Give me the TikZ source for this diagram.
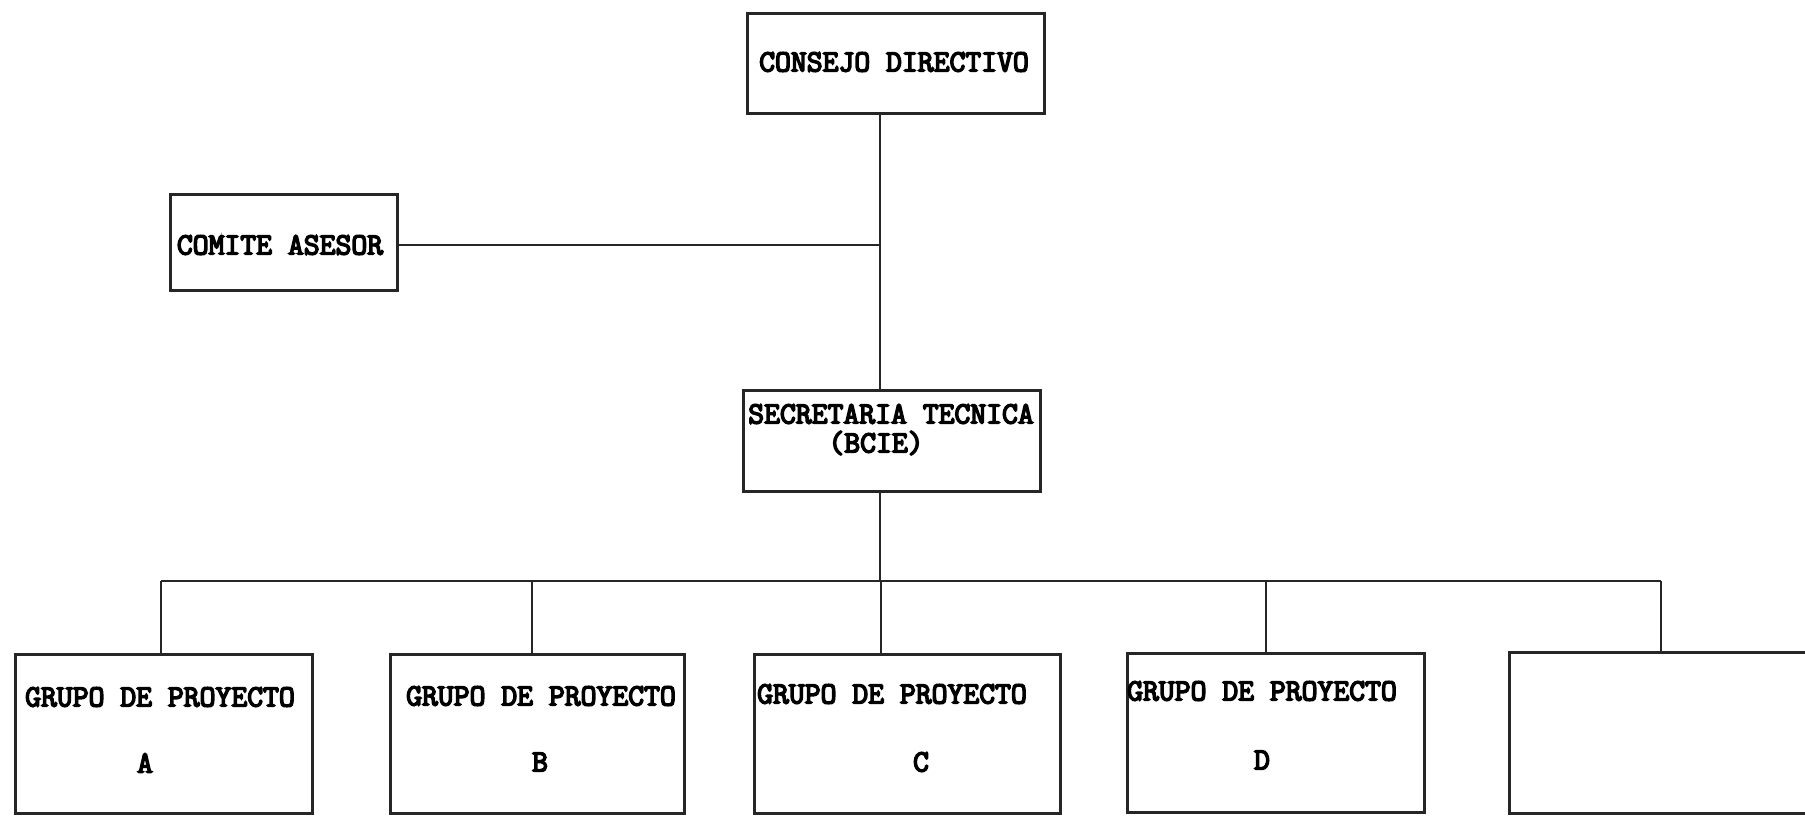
\documentclass[tikz,border=0pt]{standalone}
\usepackage{fontspec}
\newfontfamily\tw{Latin Modern Mono}[FakeBold=5]
\begin{document}
\begin{tikzpicture}[x=1pt,y=-1pt,
  box/.style={draw=black!85, line width=2.6pt, inner sep=0pt, anchor=north west},
  conn/.style={draw=black!85, line width=2.2pt},
  lbl/.style={inner sep=0pt, anchor=center, font=\tw\fontsize{30.8}{34}\selectfont, text=black}]
\clip (0,0) rectangle (1805,815);
\fill[white] (0,0) rectangle (1805,815);
% boxes
\node[box, minimum width=297pt, minimum height=100pt] (cd) at (746,12) {};
\node[box, minimum width=227pt, minimum height=96pt] (ca) at (169,193) {};
\node[box, minimum width=297pt, minimum height=101pt] (st) at (742,389) {};
\node[box, minimum width=297pt, minimum height=159pt] (ga) at (14,653) {};
\node[box, minimum width=294pt, minimum height=159pt] (gb) at (389,653) {};
\node[box, minimum width=306pt, minimum height=159pt] (gc) at (753,653) {};
\node[box, minimum width=297pt, minimum height=159pt] (gd) at (1126,652) {};
\node[box, minimum width=330pt, minimum height=161pt] (ge) at (1508,651) {};
% texts
\node[lbl] (tcd) at (894,62) {CONSEJO DIRECTIVO};
\node[lbl] (tca) at (280,245) {COMITE ASESOR};
\node[lbl] (tst1) at (891,414) {SECRETARIA TECNICA};
\node[lbl] (tst2) at (876,443) {(BCIE)};
\node[lbl] (tga) at (160,697) {GRUPO DE PROYECTO};
\node[lbl] (tga2) at (145,763) {A};
\node[lbl] (tgb) at (541,696) {GRUPO DE PROYECTO};
\node[lbl] (tgb2) at (540,762) {B};
\node[lbl] (tgc) at (892,694) {GRUPO DE PROYECTO};
\node[lbl] (tgc2) at (921,762) {C};
\node[lbl] (tgd) at (1262,691) {GRUPO DE PROYECTO};
\node[lbl] (tgd2) at (1262,760) {D};
% connectors
\coordinate (v) at (880,0);
\coordinate (hl) at (0,245);
\coordinate (bus) at (0,581);
\coordinate (d1) at (161,581);
\coordinate (d2) at (532,581);
\coordinate (d3) at (881,581);
\coordinate (d4) at (1266,581);
\coordinate (d5) at (1661,581);
\draw[conn] (v |- cd.south) -- (v |- st.north);
\draw[conn] (ca.east |- hl) -- (v |- hl);
\draw[conn] (v |- st.south) -- (v |- bus);
\draw[conn] (d1) -- (d5);
\draw[conn] (d1) -- (d1 |- ga.north);
\draw[conn] (d2) -- (d2 |- gb.north);
\draw[conn] (d3) -- (d3 |- gc.north);
\draw[conn] (d4) -- (d4 |- gd.north);
\draw[conn] (d5) -- (d5 |- ge.north);
\end{tikzpicture}
\end{document}
